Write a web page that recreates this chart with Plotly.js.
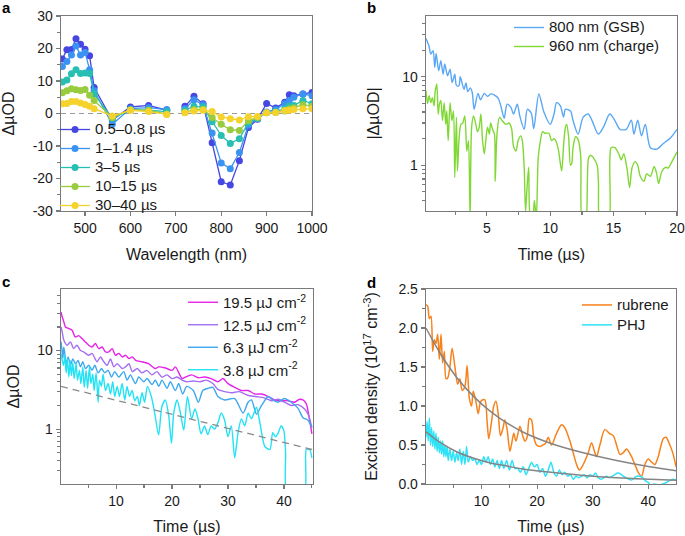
<!DOCTYPE html>
<html><head><meta charset="utf-8">
<script src="https://cdn.plot.ly/plotly-3.0.1.min.js"></script>
<style>body{margin:0;padding:0;background:#fff}#chart{width:685px;height:536px}</style>
</head><body><div id="chart"></div>
<script>
// ---------- Panel a: transient spectra ----------
const wavelengths = [450,460,470,480,490,500,510,520,560,600,640,680,700,720,740,760,780,800,820,840,860,880,900,920,940,950,960,980,1000];
const spec_05_08 = [16.8,19.6,19.7,23.0,21.3,19.8,17.8,8.0,-2.0,2.0,2.5,1.0,null,2.2,5.3,3.0,-9.0,-21.0,-22.0,-14.5,-4.3,-1.8,3.1,1.7,3.5,5.8,5.5,6.0,6.5];
const spec_1_14 = [14.5,16.0,18.0,20.8,18.0,18.8,13.5,7.0,-3.3,1.5,1.8,1.2,null,1.5,4.2,2.7,-6.0,-15.2,-17.0,-12.0,-3.5,-1.5,0.5,1.2,3.0,4.0,5.0,6.0,5.5];
const spec_3_5 = [9.7,10.3,12.2,13.5,12.3,12.5,12.3,6.0,-1.5,1.2,1.0,0.6,null,1.0,2.2,2.0,-2.5,-6.8,-9.2,-7.8,-2.8,-1.5,0.3,0.6,1.5,2.3,2.5,4.0,3.0];
const spec_10_15 = [6.4,7.0,7.6,7.3,7.1,7.4,5.6,4.0,-1.2,1.1,1.0,-0.2,null,0.3,1.2,1.3,-1.2,-3.3,-5.0,-5.2,-2.2,-1.2,0.2,0.3,0.8,1.5,1.8,2.7,2.2];
const spec_30_40 = [3.0,3.1,3.7,3.7,3.2,2.8,2.2,1.5,-0.8,1.0,0.6,-0.3,null,0.2,0.8,1.0,0.6,-1.1,-1.6,-2.0,-1.0,-0.9,0.2,0.3,0.9,1.0,1.2,1.5,1.5];
const specNames = ['0.5–0.8 µs','1–1.4 µs','3–5 µs','10–15 µs','30–40 µs'];

// ---------- Panel b: kinetics ----------
const tB800 = [0.2,0.3,0.43,0.58,0.76,0.89,1.0,1.2,1.37,1.55,1.68,1.9,2.1,2.26,2.47,2.6,2.8,2.9,3.2,3.35,3.5,3.7,3.85,4.0,4.3,4.5,4.8,5.05,5.3,5.6,5.9,6.1,6.37,6.6,6.9,7.1,7.4,7.6,7.95,8.2,8.5,8.7,9.1,9.5,10.0,10.3,10.5,10.8,11.05,11.2,11.6,11.8,12.2,12.6,13.0,13.3,13.8,14.2,14.7,15.1,15.5,16.0,16.4,16.6,16.9,17.2,17.5,17.9,18.4,18.9,19.5,20.0];
const vB800 = [27,25,22.4,18.1,19.7,12.8,18.4,11.7,15.2,10.7,14,10.3,12.2,8.6,10.7,8.0,7.9,10,7.2,8.5,6.8,7.5,6.6,4.3,6.5,5.5,6.5,6.0,6.4,6.2,5.7,4.7,3.4,4.9,4.5,3.8,4.9,3.6,2.55,4.3,3.9,2.6,6.4,4.0,2.9,3.8,5.1,4.7,3.5,4.3,4.1,3.2,2.25,3.5,3.8,3.2,2.25,2.7,3.8,3.2,2.55,2.55,3.24,2.25,3.24,2.15,2.9,1.58,1.52,1.75,2.05,2.55];
const tB960 = [0.2,0.32,0.45,0.58,0.7,0.84,0.92,1.05,1.16,1.26,1.37,1.5,1.63,1.76,1.84,1.95,2.1,2.24,2.37,2.47,2.6,2.68,2.8,2.95,3.1,3.26,3.42,3.55,3.68,3.8,3.95,4.13,4.26,4.4,4.53,4.66,4.8,4.92,5.05,5.2,5.3,5.45,5.6,5.66,5.8,6.0,6.2,6.5,6.76,6.95,7.1,7.3,7.47,7.68,7.8,7.95,8.05,8.15,8.3,8.45,8.6,8.75,8.9,9.05,9.2,9.4,9.6,9.9,10.1,10.3,10.5,10.66,10.9,11.05,11.2,11.3,11.45,11.6,11.7,11.8,12.0,12.2,12.4,12.55,12.76,13.03,13.2,13.4,13.7,13.8,13.95,14.3,14.6,14.7,14.8,15.1,15.4,15.6,15.8,16.05,16.26,16.45,16.7,16.9,17.1,17.4,17.6,17.9,18.2,18.4,18.55,18.8,19.1,19.3,19.6,19.87,20.0];
const vB960 = [7,5.0,6.1,5.1,5.8,4.7,6.7,8.3,3.8,4.9,5.4,3.2,5.1,2.9,4.1,1.9,5.1,3.2,4.1,0.73,3.5,0.86,1.9,2.9,3.0,3.6,1.45,1.9,0.25,2.7,3.6,2.9,2.4,2.7,3.8,1.9,1.35,1.9,2.7,2.25,3.0,2.55,2.25,0.66,2.25,3.5,3.2,2.9,3.0,2.6,1.65,1.45,1.9,2.15,1.9,0.92,0.3,0.5,0.95,0.25,0.25,0.4,0.25,1.2,1.8,2.4,2.3,2.3,1.9,2.0,1.8,1.45,0.86,1.65,2.7,2.9,2.1,1.0,1.05,1.58,2.1,1.95,1.3,0.2,0.2,1.22,1.3,1.22,1.0,0.66,0.2,0.2,0.2,1.1,1.58,1.58,1.35,1.15,1.35,0.93,0.56,0.93,1.1,1.0,0.75,0.66,0.8,0.75,0.97,0.8,0.62,0.85,0.95,0.93,1.1,1.3,1.42];

// ---------- Panel c: fluence dependence ----------
const tC195 = [0.15,0.36,0.6,0.95,1.55,2.14,2.7,3.3,3.9,4.5,5.1,5.7,6.3,6.9,7.5,8.1,8.7,9.3,9.9,10.5,11.1,11.7,12.3,12.9,13.5,14.6,15.8,17.0,17.6,18.8,20.0,20.6,21.8,22.4,23.5,24.7,25.8,27.0,28.2,29.1,30.0,31.2,32.4,33.6,34.8,36.0,37.2,38.3,39.5,40.7,41.9,42.8,43.4,44.0,44.6,45.0];
const vC195 = [31,27,24,20,19.1,18.2,14.9,15.5,14.2,12.9,11.7,11.1,12.3,10.6,11.1,9.6,9.6,10.6,8.7,9.2,8.3,8.7,7.9,8.3,7.5,7.2,6.8,5.9,6.2,6.0,5.6,6.2,4.4,4.6,4.9,4.5,4.6,4.4,4.0,4.4,3.8,3.4,3.1,3.1,2.8,2.8,2.6,2.35,2.3,2.3,2.2,2.4,2.35,2.1,1.3,0.87];
const tC125 = [0.15,0.36,0.65,1.25,1.85,2.4,3.0,3.6,4.2,5.1,5.7,6.6,7.2,7.8,8.4,9.0,9.6,10.2,11.1,11.7,12.3,12.9,13.8,14.6,15.5,16.4,17.3,18.2,19.1,20.0,20.9,21.8,22.6,23.8,25.0,26.1,27.3,28.2,29.4,30.6,32.0,33.5,35.0,36.5,37.8,39.0,40.1,41.3,42.5,43.7,44.4,45.0];
const vC125 = [20,17.4,13.6,11.7,12.9,10.6,11.7,10.1,9.6,8.7,9.2,7.2,8.3,7.2,6.5,7.8,6.2,6.8,5.9,6.2,6.8,5.4,5.9,5.2,5.6,4.9,5.4,4.6,4.9,4.4,4.6,4.2,4.0,4.1,4.0,4.2,3.8,3.2,3.0,2.9,3.0,2.7,2.6,2.5,2.3,2.4,2.2,2.0,2.05,1.8,1.5,1.05];
const tC63 = [0.15,0.3,0.48,0.65,0.83,1.07,1.43,1.85,2.26,2.74,3.21,3.63,4.05,4.52,5.12,5.71,6.19,6.79,7.38,7.98,8.57,9.17,9.76,10.48,11.37,11.96,12.56,13.45,14.05,14.94,15.54,16.43,17.02,17.62,18.21,19.11,19.7,20.6,21.19,21.9,22.62,23.8,24.7,25.5,26.4,27.3,28.2,29.4,31.2,32.7,33.6,34.2,35.1,36.0,37.2,38.0,38.9,40.1,41.3,42.5,43.4,44.3,45.0];
const vC63 = [13,10.6,8.0,11,9.2,6.8,8.3,6.5,7.8,6.8,7.5,6.2,7.2,5.9,6.5,5.6,6.5,5.2,5.9,5.2,5.6,4.6,5.4,4.6,5.4,4.2,4.9,3.8,4.6,4.0,4.4,3.7,4.2,3.5,4.2,3.3,4.0,3.1,3.8,2.8,3.5,3.1,2.2,3.1,3.3,3.4,2.6,2.35,2.45,1.6,2.2,2.35,1.55,2.0,2.6,2.35,2.2,2.45,2.2,1.85,1.4,1.3,1.05];
const tC38 = [0.15,0.36,0.6,0.83,1.07,1.3,1.55,1.8,2.0,2.26,2.5,2.86,3.1,3.45,3.7,4.05,4.3,4.64,4.9,5.24,5.48,5.83,6.07,6.43,6.79,7.02,7.38,7.68,8.1,8.57,9.0,9.4,9.76,10.2,10.6,11.07,11.55,11.96,12.4,12.86,13.33,13.8,14.17,14.64,15.1,15.6,16.3,16.9,17.6,18.2,18.8,19.4,19.9,20.3,20.9,21.5,22.1,22.75,23.5,24.1,24.6,25.2,25.8,26.4,27.0,27.6,28.2,28.8,29.4,30.0,30.6,31.2,31.8,32.4,33.0,33.6,34.2,35.1,35.8,36.6,37.5,38.0,38.5,39.0,39.5,40.0,40.3,40.6,43.6,44.0,44.6,45.0];
const vC38 = [9.2,7.5,6.5,8.7,5.2,7.8,4.6,7.5,4.8,7.0,4.4,6.8,4.2,5.6,3.8,6.2,3.4,5.6,3.3,6.2,3.8,5.0,3.1,5.2,2.2,4.2,3.5,5.0,3.1,3.8,2.8,4.0,2.6,3.5,2.6,3.8,2.35,3.5,2.6,3.1,2.3,2.6,2.0,2.9,2.2,3.5,2.6,1.6,0.84,1.95,2.35,1.5,0.66,1.6,2.35,1.6,0.97,2.6,1.35,1.8,1.4,0.87,1.1,0.85,1.1,1.0,1.2,1.6,1.3,0.8,1.1,0.43,0.9,1.35,1.1,1.6,1.35,1.9,1.1,0.6,0.55,0.9,0.8,0.9,1.1,0.95,0.5,0.15,0.15,0.55,0.55,0.43];
const tCfit = [0.15,45];
const vCfit = [3.5,0.55];
const fluenceNames = ['19.5 µJ cm<sup>-2</sup>','12.5 µJ cm<sup>-2</sup>','6.3 µJ cm<sup>-2</sup>','3.8 µJ cm<sup>-2</sup>'];

// ---------- Panel d: exciton density ----------
const tRub = [0,0.3,0.6,0.9,1.2,1.5,1.8,2.1,2.4,2.7,3.0,3.3,3.6,3.9,4.3,4.7,5.3,5.7,6.1,6.5,7.0,7.4,7.8,8.2,8.5,9.0,9.4,9.8,10.2,10.6,11.0,11.3,11.8,12.2,12.6,13.0,13.4,13.8,14.2,14.6,15.1,15.5,15.8,16.2,16.9,17.4,17.8,18.2,18.6,19.0,19.4,19.9,20.5,21.0,21.5,22.0,22.6,23.5,24.4,25.0,25.9,26.5,27.1,27.6,28.3,29.2,29.8,30.4,30.7,31.3,32.2,33.0,33.7,34.3,34.9,35.5,36.1,37.0,37.6,38.2,38.8,39.4,40.0,40.6,41.2,41.8,42.7,43.2,43.9,44.5,45.0];
const vRub = [2.3,2.28,2.12,2.15,1.7,1.85,1.8,1.92,1.6,1.92,1.55,1.7,1.35,1.36,1.5,1.74,1.45,1.28,1.35,1.2,1.25,1.52,1.1,1.0,1.19,1.05,0.9,1.05,1.08,1.08,0.8,0.58,0.8,1.0,1.06,0.9,0.62,0.7,0.82,0.7,0.42,0.55,0.65,0.55,0.74,0.62,0.55,0.6,0.84,0.82,0.6,0.5,0.48,0.5,0.52,0.6,0.5,0.65,0.76,0.72,0.55,0.4,0.25,0.18,0.25,0.4,0.53,0.4,0.35,0.5,0.7,0.65,0.62,0.5,0.38,0.4,0.45,0.35,0.25,0.15,0.1,0.25,0.32,0.28,0.25,0.35,0.58,0.6,0.5,0.38,0.22];
const tPHJ = [0,0.2,0.4,0.6,0.8,1.0,1.2,1.4,1.6,1.8,2.0,2.2,2.4,2.6,2.8,3.0,3.2,3.4,3.6,3.8,4.0,4.3,4.6,4.9,5.2,5.5,5.8,6.1,6.4,6.7,7.0,7.3,7.6,8.0,8.4,8.8,9.2,9.6,10.0,10.4,10.8,11.2,11.6,12.0,12.4,12.8,13.2,13.6,14.0,14.5,15.0,15.5,16.0,16.5,17.0,17.5,18.0,18.5,19.0,19.5,20.0,20.5,21.0,21.5,22.0,22.5,23.0,23.5,24.0,24.5,25.0,25.5,26.0,26.5,27.0,27.5,28.0,28.5,29.0,29.5,30.0,30.5,31.0,31.5,32.0,32.5,33.0,33.5,34.0,34.5,35.0,35.5,36.0,36.5,37.0,37.5,38.0,38.5,39.0,39.5,40.0,40.5,41.0,42.0,43.0,43.5,44.0,44.5,45.0];
const vPHJ = [0.6,0.8,0.55,0.85,0.5,0.72,0.48,0.68,0.45,0.65,0.42,0.6,0.4,0.55,0.38,0.55,0.35,0.5,0.35,0.48,0.3,0.45,0.3,0.42,0.28,0.4,0.3,0.45,0.25,0.42,0.25,0.48,0.28,0.35,0.3,0.32,0.25,0.3,0.25,0.35,0.28,0.35,0.25,0.32,0.22,0.3,0.2,0.3,0.2,0.3,0.18,0.3,0.2,0.2,0.15,0.22,0.12,0.2,0.28,0.22,0.25,0.15,0.2,0.1,0.18,0.28,0.15,0.1,0.18,0.12,0.15,0.1,0.12,0.06,0.1,0.08,0.1,0.12,0.08,0.12,0.1,0.14,0.08,0.06,0.08,0.1,0.08,0.1,0.12,0.14,0.13,0.1,0.08,0.06,0.05,0.08,0.1,0.1,0.08,0.04,0.02,-0.02,0.0,-0.01,0.01,0.03,0.05,0.06,0.05];
const tFit = [0,2.6,5.6,8.6,11.6,14.6,17.6,22.5,28.3,34.3,40.3,45];
const vFitRub = [2.0,1.67,1.36,1.12,0.93,0.78,0.66,0.52,0.4,0.3,0.22,0.17];
const vFitPHJ = [0.67,0.53,0.41,0.33,0.27,0.23,0.19,0.15,0.11,0.08,0.06,0.047];

// ---------- styling ----------
const specColors = ['#4646e2','#3a92f2','#27bfb2','#98cb3e','#f6d22c'];
const FONT = 'Liberation Sans, Arial, Helvetica, sans-serif';
const TXT = '#1a1a1a';
const AX = '#7a7a7a';
const big = s => '<span style="font-size:15px">' + s + '</span>';

const traces = [];
const specSeries = [spec_05_08, spec_1_14, spec_3_5, spec_10_15, spec_30_40];
specSeries.forEach((s, i) => {
  traces.push({x: wavelengths, y: s, name: big(specNames[i]), mode: 'lines+markers', connectgaps: false,
    line: {color: specColors[i], width: 1.3}, marker: {color: specColors[i], size: 7},
    xaxis: 'x', yaxis: 'y', legend: 'legend'});
});
traces.push({x: tB800, y: vB800, name: big('800 nm (GSB)'), mode: 'lines', line: {color: '#5aa8f5', width: 1.4, shape: 'spline', smoothing: 0.8}, xaxis: 'x2', yaxis: 'y2', legend: 'legend2'});
traces.push({x: tB960, y: vB960, name: big('960 nm (charge)'), mode: 'lines', line: {color: '#80d834', width: 1.4, shape: 'spline', smoothing: 0.8}, xaxis: 'x2', yaxis: 'y2', legend: 'legend2'});

const cCols = ['#e822e8','#a46ef2','#3ea8ee','#22e2f5'];
[[tC195,vC195],[tC125,vC125],[tC63,vC63],[tC38,vC38]].forEach((p, i) => {
  traces.push({x: p[0], y: p[1], name: big(fluenceNames[i]), mode: 'lines', line: {color: cCols[i], width: 1.4, shape: 'spline', smoothing: 0.7}, xaxis: 'x3', yaxis: 'y3', legend: 'legend3'});
});
traces.push({x: tCfit, y: vCfit, mode: 'lines', showlegend: false, line: {color: '#8a8a8a', width: 1.3, dash: '7px,5px'}, xaxis: 'x3', yaxis: 'y3', hoverinfo: 'skip'});

traces.push({x: tRub, y: vRub, name: big('rubrene'), mode: 'lines', line: {color: '#f7811a', width: 1.5, shape: 'spline', smoothing: 0.8}, xaxis: 'x4', yaxis: 'y4', legend: 'legend4'});
traces.push({x: tPHJ, y: vPHJ, name: big('PHJ'), mode: 'lines', line: {color: '#2ee2f7', width: 1.5, shape: 'spline', smoothing: 0.8}, xaxis: 'x4', yaxis: 'y4', legend: 'legend4'});
traces.push({x: tFit, y: vFitRub, mode: 'lines', showlegend: false, line: {color: '#858585', width: 1.5, shape: 'spline'}, xaxis: 'x4', yaxis: 'y4'});
traces.push({x: tFit, y: vFitPHJ, mode: 'lines', showlegend: false, line: {color: '#858585', width: 1.5, shape: 'spline'}, xaxis: 'x4', yaxis: 'y4'});

function ax(extra) {
  return Object.assign({
    showline: true, mirror: true, linecolor: AX, linewidth: 1.3,
    ticks: 'outside', ticklen: 4, tickcolor: AX, tickwidth: 1.2,
    showgrid: false, zeroline: false, automargin: false,
    tickfont: {size: 14, color: TXT, family: FONT}
  }, extra);
}
function ttl(text, standoff) { return {text: text, font: {size: 16, color: TXT, family: FONT}, standoff: standoff}; }
const W = 685, H = 536;
const dx = (a, b) => [a / W, b / W];
const dy = (top, bot) => [1 - bot / H, 1 - top / H];
const logMinor = [0.3,0.4,0.5,0.6,0.7,0.8,0.9,2,3,4,5,6,7,8,9,20,30,40,50];
const legFont = sz => ({size: sz, color: TXT, family: FONT});

const layout = {
  width: W, height: H, margin: {l: 0, r: 0, t: 0, b: 0},
  paper_bgcolor: '#fff', plot_bgcolor: '#fff',
  font: {family: FONT, color: TXT},
  showlegend: true,
  xaxis: ax({domain: dx(61, 312), anchor: 'y', range: [447, 1000], tickvals: [500,600,700,800,900,1000],
    title: ttl('Wavelength (nm)', 13)}),
  yaxis: ax({domain: dy(16, 211), anchor: 'x', range: [-30, 30],
    tickvals: [-30,-20,-10,0,10,20,30], ticktext: ['-30','-20','-10','0','10','20','30'],
    minor: {dtick: 5, tick0: 0, ticks: 'outside', ticklen: 2.5, tickcolor: AX},
    title: ttl('ΔµOD', 14)}),
  xaxis2: ax({domain: dx(426, 677), anchor: 'y2', range: [0.2, 20], tickvals: [5,10,15,20],
    minor: {tickvals: [2.5,7.5,12.5,17.5], ticks: 'outside', ticklen: 2.5, tickcolor: AX},
    title: ttl('Time (µs)', 13)}),
  yaxis2: ax({domain: dy(16, 211), anchor: 'x2', type: 'log', range: [-0.517, 1.687],
    tickvals: [1, 10], ticktext: ['1', '10'],
    minor: {tickvals: logMinor, ticks: 'outside', ticklen: 2.5, tickcolor: AX},
    title: ttl('|ΔµOD|', 18)}),
  xaxis3: ax({domain: dx(61, 313), anchor: 'y3', range: [0.15, 45.2], tickvals: [10,20,30,40],
    minor: {tickvals: [5,15,25,35,45], ticks: 'outside', ticklen: 2.5, tickcolor: AX},
    title: ttl('Time (µs)', 12)}),
  yaxis3: ax({domain: dy(289, 484), anchor: 'x3', type: 'log', range: [-0.699, 1.784],
    tickvals: [1, 10], ticktext: ['1', '10'],
    minor: {tickvals: logMinor, ticks: 'outside', ticklen: 2.5, tickcolor: AX},
    title: ttl('ΔµOD', 13)}),
  xaxis4: ax({domain: dx(426, 676), anchor: 'y4', range: [0, 45], tickvals: [10,20,30,40],
    minor: {tickvals: [5,15,25,35], ticks: 'outside', ticklen: 2.5, tickcolor: AX},
    title: ttl('Time (µs)', 12)}),
  yaxis4: ax({domain: dy(289, 484), anchor: 'x4', range: [0, 2.5], dtick: 0.5, tickformat: '.1f',
    minor: {dtick: 0.25, ticks: 'outside', ticklen: 2.5, tickcolor: AX},
    title: ttl('Exciton density (10<sup>17</sup> cm<sup>-3</sup>)', 16)}),
  legend: {x: 55 / W, y: 1 - 115 / H, xanchor: 'left', yanchor: 'top', bgcolor: 'rgba(0,0,0,0)',
    font: legFont(11), itemwidth: 30, tracegroupgap: 0},
  legend2: {x: 509 / W, y: 1 - 13 / H, xanchor: 'left', yanchor: 'top', bgcolor: 'rgba(0,0,0,0)',
    font: legFont(11), itemwidth: 30},
  legend3: {x: 183 / W, y: 1 - 286 / H, xanchor: 'left', yanchor: 'top', bgcolor: 'rgba(0,0,0,0)',
    font: legFont(15), itemwidth: 30},
  legend4: {x: 577 / W, y: 1 - 290 / H, xanchor: 'left', yanchor: 'top', bgcolor: 'rgba(0,0,0,0)',
    font: legFont(13), itemwidth: 30},
  shapes: [{type: 'line', xref: 'x domain', yref: 'y', x0: 0, x1: 1, y0: 0, y1: 0,
    line: {color: '#9a9a9a', width: 1.2, dash: '5px,4px'}, layer: 'below'}],
  annotations: [
    {text: '<b>a</b>', xref: 'paper', yref: 'paper', x: 0, y: 1 - 7 / H, xanchor: 'left', yanchor: 'middle', showarrow: false, font: {size: 15, color: '#000', family: FONT}},
    {text: '<b>b</b>', xref: 'paper', yref: 'paper', x: 365 / W, y: 1 - 7 / H, xanchor: 'left', yanchor: 'middle', showarrow: false, font: {size: 15, color: '#000', family: FONT}},
    {text: '<b>c</b>', xref: 'paper', yref: 'paper', x: 0, y: 1 - 281 / H, xanchor: 'left', yanchor: 'middle', showarrow: false, font: {size: 15, color: '#000', family: FONT}},
    {text: '<b>d</b>', xref: 'paper', yref: 'paper', x: 365 / W, y: 1 - 282 / H, xanchor: 'left', yanchor: 'middle', showarrow: false, font: {size: 15, color: '#000', family: FONT}}
  ]
};

Plotly.newPlot('chart', traces, layout, {displayModeBar: false, staticPlot: true});
</script></body></html>
